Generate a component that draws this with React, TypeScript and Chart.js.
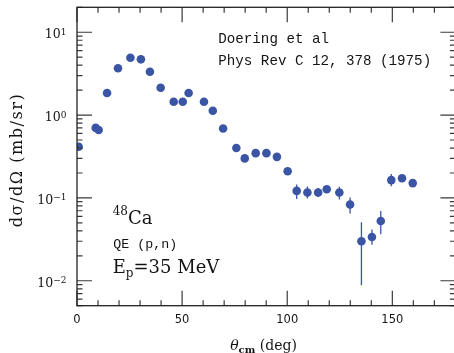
import React, { useEffect, useRef } from "react";
import { Chart, registerables } from "chart.js";

Chart.register(...registerables);

// ---- data ----
const angles = [
  0.8, 8.9, 10.3, 14.3, 19.5, 25.4, 30.4, 34.7, 39.8, 46.0, 50.3, 53.1, 60.4,
  64.6, 69.5, 75.8, 79.8, 85.0, 90.1, 95.1, 100.2, 104.5, 109.6, 114.7, 118.8,
  124.8, 129.9, 135.3, 140.3, 144.5, 149.5, 154.6, 159.7,
];
const crossSections = [
  0.414, 0.7, 0.66, 1.85, 3.67, 4.93, 4.71, 3.34, 2.14, 1.45, 1.45, 1.85, 1.45,
  1.13, 0.69, 0.4, 0.3, 0.347, 0.347, 0.313, 0.21, 0.1216, 0.116, 0.116, 0.127,
  0.116, 0.0832, 0.03, 0.0338, 0.0527, 0.164, 0.173, 0.151,
];
const errLow: (number | null)[] = [
  null, null, null, null, null, null, null, null, null, null, null, null, null,
  null, null, null, null, null, null, null, null, 0.0973, 0.0984, 0.1025, 0.12,
  0.0957, 0.0648, 0.0088, 0.0273, 0.0364, 0.138, 0.162, 0.143,
];
const errHigh: (number | null)[] = [
  null, null, null, null, null, null, null, null, null, null, null, null, null,
  null, null, null, null, null, null, null, null, 0.145, 0.137, 0.132, 0.134,
  0.136, 0.101, 0.051, 0.0415, 0.0697, 0.194, 0.185, 0.16,
];
const xTickLabels = [0, 50, 100, 150];
const yDecadeExponents = [-2, -1, 0, 1];

const X_MIN = 0;
const X_MAX = 180;
const Y_MIN = 0.005;
const Y_MAX = 20;

const BLUE = "#3b55a5";
const INK = "#141414";
const SERIF = "'DejaVu Serif', serif";
const SANS = "'DejaVu Sans', sans-serif";
const MONO = "'Liberation Mono', monospace";

function drawSupSub(
  ctx: CanvasRenderingContext2D,
  parts: { text: string; font: string; dy: number }[],
  x: number,
  y: number,
  align: "left" | "right" | "center"
) {
  let total = 0;
  const widths = parts.map((p) => {
    ctx.font = p.font;
    const w = ctx.measureText(p.text).width;
    total += w;
    return w;
  });
  let cx = align === "left" ? x : align === "right" ? x - total : x - total / 2;
  ctx.textAlign = "left";
  ctx.textBaseline = "alphabetic";
  parts.forEach((p, i) => {
    ctx.font = p.font;
    ctx.fillText(p.text, cx, y + p.dy);
    cx += widths[i];
  });
}

const framePlugin = {
  id: "frameAndText",
  beforeDatasetsDraw(chart: any) {
    const { ctx, chartArea: a } = chart;
    const x = chart.scales.x;
    const y = chart.scales.y;
    ctx.save();
    ctx.beginPath();
    ctx.rect(a.left, a.top, a.right - a.left, a.bottom - a.top);
    ctx.clip();
    ctx.strokeStyle = BLUE;
    ctx.lineWidth = 1.3;
    angles.forEach((ang, i) => {
      const lo = errLow[i];
      const hi = errHigh[i];
      if (lo == null || hi == null) return;
      const px = x.getPixelForValue(ang);
      ctx.beginPath();
      ctx.moveTo(px, y.getPixelForValue(lo));
      ctx.lineTo(px, y.getPixelForValue(hi));
      ctx.stroke();
    });
    ctx.restore();
  },
  afterDraw(chart: any) {
    const { ctx, chartArea: a } = chart;
    const x = chart.scales.x;
    const y = chart.scales.y;
    ctx.save();

    // ticks (inward, all four sides)
    ctx.strokeStyle = "#3a3a3a";
    ctx.lineWidth = 1.2;
    ctx.beginPath();
    for (let v = X_MIN; v <= X_MAX; v += 10) {
      const len = v % 50 === 0 ? 15 : 5.5;
      const px = x.getPixelForValue(v);
      ctx.moveTo(px, a.bottom);
      ctx.lineTo(px, a.bottom - len);
      ctx.moveTo(px, a.top);
      ctx.lineTo(px, a.top + len);
    }
    for (let e = -3; e <= 1; e++) {
      for (let m = 1; m <= 9; m++) {
        const v = m * Math.pow(10, e);
        if (v < Y_MIN * 0.999 || v > Y_MAX * 1.001) continue;
        const len = m === 1 ? 15 : 5.5;
        const py = y.getPixelForValue(v);
        ctx.moveTo(a.left, py);
        ctx.lineTo(a.left + len, py);
        ctx.moveTo(a.right, py);
        ctx.lineTo(a.right - len, py);
      }
    }
    ctx.stroke();

    // frame
    ctx.strokeStyle = "#222";
    ctx.lineWidth = 1.3;
    ctx.strokeRect(a.left, a.top, a.right - a.left, a.bottom - a.top);

    ctx.fillStyle = INK;

    // x tick labels
    ctx.font = `11.5px ${SANS}`;
    ctx.textAlign = "center";
    ctx.textBaseline = "alphabetic";
    xTickLabels.forEach((v) => {
      ctx.fillText(String(v), x.getPixelForValue(v), a.bottom + 17.5);
    });

    // y tick labels 10^n
    yDecadeExponents.forEach((e) => {
      const py = y.getPixelForValue(Math.pow(10, e));
      const expText = e < 0 ? "\u2212" + Math.abs(e) : String(e);
      drawSupSub(
        ctx,
        [
          { text: "10", font: `12.5px ${SERIF}`, dy: 6 },
          { text: expText, font: `9px ${SERIF}`, dy: 2.5 },
        ],
        66.5,
        py,
        "right"
      );
    });

    // x axis title: θ_cm (deg)
    drawSupSub(
      ctx,
      [
        { text: "\u03B8", font: `italic 14px ${SERIF}`, dy: 0 },
        { text: "cm", font: `bold 10px ${SERIF}`, dy: 3 },
        { text: " (deg)", font: `14px ${SERIF}`, dy: 0 },
      ],
      263.5,
      349.5,
      "center"
    );

    // y axis title (rotated)
    ctx.save();
    ctx.translate(21.5, 160);
    ctx.rotate(-Math.PI / 2);
    ctx.font = `16px ${SERIF}`;
    const yTitle = "d\u03C3/d\u03A9 (mb/sr)";
    const wT = ctx.measureText(yTitle).width;
    const spacing = Math.max(0, (133 - wT) / (yTitle.length - 1));
    (ctx as any).letterSpacing = spacing.toFixed(2) + "px";
    const wT2 = ctx.measureText(yTitle).width;
    ctx.textAlign = "left";
    ctx.fillText(yTitle, -wT2 / 2, 0);
    ctx.restore();

    // annotations
    ctx.font = `14.2px ${MONO}`;
    ctx.textAlign = "left";
    ctx.textBaseline = "alphabetic";
    ctx.fillText("Doering et al", 218.3, 42.7);
    ctx.fillText("Phys Rev C 12, 378 (1975)", 218.3, 65);

    drawSupSub(
      ctx,
      [
        { text: "48", font: `12px ${SERIF}`, dy: -9 },
        { text: "Ca", font: `18px ${SERIF}`, dy: 0 },
      ],
      112.7,
      224,
      "left"
    );

    ctx.font = `13.3px ${MONO}`;
    ctx.fillText("QE (p,n)", 113.3, 248.3);

    drawSupSub(
      ctx,
      [
        { text: "E", font: `18px ${SERIF}`, dy: 0 },
        { text: "p", font: `12px ${SERIF}`, dy: 4 },
        { text: "=35 MeV", font: `18px ${SERIF}`, dy: 0 },
      ],
      112.7,
      273.3,
      "left"
    );

    ctx.restore();
  },
};

export default function App() {
  const canvasRef = useRef<HTMLCanvasElement | null>(null);

  useEffect(() => {
    const canvas = canvasRef.current;
    if (!canvas) return;
    const chart = new Chart(canvas, {
      type: "scatter",
      data: {
        datasets: [
          {
            data: angles.map((a, i) => ({ x: a, y: crossSections[i] })),
            pointRadius: 4.3,
            pointHoverRadius: 4.3,
            pointBackgroundColor: BLUE,
            pointBorderWidth: 0,
            pointBorderColor: BLUE,
            showLine: false,
            clip: 0,
          } as any,
        ],
      },
      options: {
        animation: false,
        responsive: false,
        devicePixelRatio: 1,
        events: [],
        layout: { padding: { left: 0, right: 14.6, top: 7.3, bottom: 0 } },
        plugins: {
          legend: { display: false },
          tooltip: { enabled: false },
        },
        scales: {
          x: {
            type: "linear",
            min: X_MIN,
            max: X_MAX,
            grid: { display: false, drawTicks: false },
            border: { display: false },
            ticks: { display: false },
            afterFit: (s: any) => {
              s.height = 47.3;
            },
          },
          y: {
            type: "logarithmic",
            min: Y_MIN,
            max: Y_MAX,
            grid: { display: false, drawTicks: false },
            border: { display: false },
            ticks: { display: false },
            afterFit: (s: any) => {
              s.width = 77;
            },
          },
        },
      },
      plugins: [framePlugin],
    });
    return () => chart.destroy();
  }, []);

  return (
    <div
      style={{
        position: "absolute",
        left: 0,
        top: 0,
        width: 454,
        height: 353,
        overflow: "hidden",
        background: "#fff",
      }}
    >
      <canvas ref={canvasRef} width={470} height={353} style={{ display: "block" }} />
    </div>
  );
}
